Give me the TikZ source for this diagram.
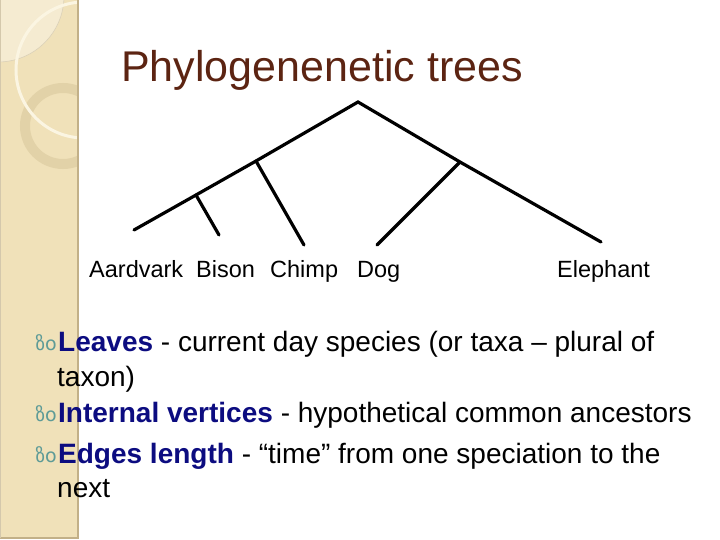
\documentclass[tikz,border=0pt]{standalone}
\usepackage{fontspec}
\setmainfont{Liberation Sans}
\newfontfamily\bulfont{DejaVu Sans}
\definecolor{side}{HTML}{F0E1B9}
\definecolor{sideedge}{HTML}{C2B088}
\definecolor{ringc}{HTML}{E2D2A8}
\definecolor{arcc}{HTML}{FBF5E2}
\definecolor{titlec}{HTML}{5C2412}
\definecolor{navyc}{HTML}{0C0C80}
\definecolor{bulc}{HTML}{5E9B97}
\begin{document}
\begin{tikzpicture}[x=1pt,y=-1pt,
  edge/.style={line width=3.2pt, line cap=round},
  vtx/.style={inner sep=0pt, minimum size=0pt},
  leaf/.style={anchor=base west, inner sep=0pt, font=\fontsize{23.5}{28}\selectfont},
  body/.style={anchor=base west, inner sep=0pt, font=\fontsize{28}{33}\selectfont},
  bul/.style={anchor=base east, inner sep=0pt, text=bulc, font=\bulfont\fontsize{19}{22}\selectfont}]
\useasboundingbox (0,0) rectangle (720,540);
% sidebar
\fill[side] (0,0) rectangle (78,538);
\begin{scope}
  \clip (0,0) rectangle (78,538);
  \fill[white, opacity=0.35] (-2,-4) circle (66);
  \draw[sideedge!60, line width=0.6pt] (-2,-4) circle (66);
  \draw[ringc, line width=10pt] (63,126) circle (38);
  \draw[arcc, line width=3pt] (84,70) circle (68);
\end{scope}
\draw[sideedge, line width=1.5pt] (78,0) -- (78,538) -- (0,538);
\draw[sideedge!70, line width=1pt] (0.5,0) -- (0.5,538);
% title
\node[anchor=base west, inner sep=0pt, text=titlec, font=\fontsize{43}{50}\selectfont] (title) at (121,82) {Phylogenenetic trees};
% tree
\node[vtx] (root) at (358,102) {};
\node[vtx] (n1) at (196,195) {};
\node[vtx] (n2) at (256,161) {};
\node[vtx] (n3) at (460,162) {};
\node[vtx] (la) at (134,230) {};
\node[vtx] (lb) at (219,235) {};
\node[vtx] (lc) at (304,245) {};
\node[vtx] (ld) at (377,245) {};
\node[vtx] (le) at (601,242) {};
\draw[edge] (la.center) -- (n1.center) -- (n2.center) -- (root.center) -- (n3.center) -- (le.center);
\draw[edge] (n1.center) -- (lb.center);
\draw[edge] (n2.center) -- (lc.center);
\draw[edge] (n3.center) -- (ld.center);
% leaf labels
\node[leaf] (ta) at (89,277) {Aardvark};
\node[leaf] (tb) at (196,277) {Bison};
\node[leaf] (tc) at (270,277) {Chimp};
\node[leaf] (td) at (357,277) {Dog};
\node[leaf] (te) at (557,277) {Elephant};
% bullets
\node[bul] (b1) at (57,350) {ზo};
\node[body] (l1) at (58,351) {\textbf{\textcolor{navyc}{Leaves}} - current day species (or taxa – plural of};
\node[body] (l1b) at (57,386) {taxon)};
\node[bul] (b2) at (57,421) {ზo};
\node[body] (l2) at (58,422) {\textbf{\textcolor{navyc}{Internal vertices}} - hypothetical common ancestors};
\node[bul] (b3) at (57,462) {ზo};
\node[body] (l3) at (58,463) {\textbf{\textcolor{navyc}{Edges length}} - “time” from one speciation to the};
\node[body] (l3b) at (57,497) {next};
\end{tikzpicture}
\end{document}
